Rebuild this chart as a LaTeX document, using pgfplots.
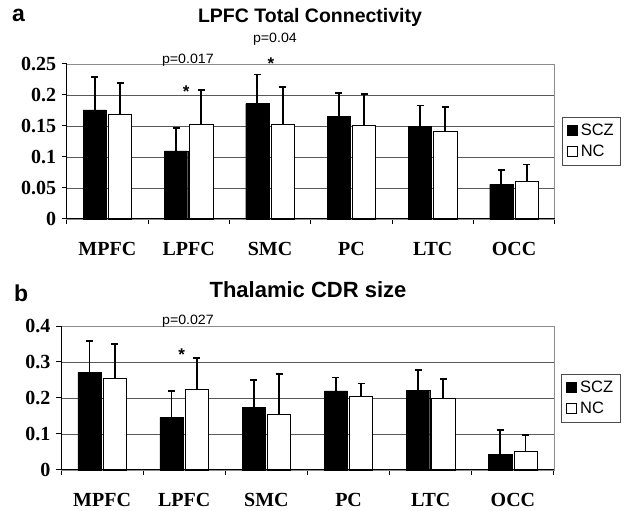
\documentclass[border=0pt]{standalone}
\usepackage{fontspec}
\setmainfont{Liberation Serif}
\newfontfamily\arial{Liberation Sans}
\usepackage{pgfplots}
\usepackage{pgfplotstable}
\pgfplotsset{compat=1.18}

\pgfplotstableread{
x scz scze nc nce
0 0.176 0.0525 0.169 0.050
1 0.110 0.037 0.153 0.055
2 0.186 0.047 0.153 0.0595
3 0.165 0.038 0.151 0.051
4 0.149 0.034 0.1416 0.0385
5 0.056 0.023 0.061 0.027
}\toptable

\pgfplotstableread{
x scz scze nc nce
0 0.271 0.088 0.2535 0.097
1 0.1465 0.072 0.224 0.088
2 0.174 0.075 0.155 0.112
3 0.220 0.037 0.204 0.036
4 0.222 0.056 0.198 0.055
5 0.0435 0.0675 0.051 0.046
}\bottable

\pgfplotsset{
  panel/.style={
    scale only axis,
    ybar, bar width=23.3pt,
    xmin=-0.5, xmax=5.5, ymin=0,
    xtick={0,...,5},
    xticklabels={MPFC,LPFC,SMC,PC,LTC,OCC},
    major x tick style={draw=none},
    minor xtick={-0.5,0.5,...,5.5},
    minor x tick style={black, line width=1pt},
    minor tick length=5pt,
    major tick length=5pt,
    tick align=outside,
    tick pos=left,
    ytick style={black, line width=1pt},
    ymajorgrids,
    major grid style={black!65, line width=0.9pt},
    axis line style={black!45, line width=0.9pt},
    ticklabel style={font=\fontsize{20}{24}\selectfont\bfseries},
    xticklabel style={yshift=-15pt},
    yticklabel style={xshift=-2pt},
    clip=false,
    legend style={draw=black!70, line width=0.8pt, font=\arial\fontsize{16.5}{20}\selectfont,
      anchor=west, xshift=7pt, inner xsep=5pt, inner ysep=5pt, row sep=4pt,
      column sep=1pt,
      legend cell align=left},
    legend image code/.code={\draw[#1, line width=0.7pt] (0pt,-5pt) rectangle (10pt,5pt);},
    error bars/error bar style={line width=1.8pt, black},
    error bars/error mark options={rotate=90, mark size=3.5pt, line width=1.8pt, black},
  },
}

\begin{document}
\begin{tikzpicture}
\path[use as bounding box] (0pt,0pt) rectangle (630pt,511pt);

% Panel a
\begin{axis}[panel,
  at={(66.7pt,292pt)}, anchor=south west,
  width=488pt, height=155pt,
  ymax=0.25,
  ytick={0,0.05,0.1,0.15,0.2,0.25},
  yticklabels={0,0.05,0.1,0.15,0.2,0.25},
  legend style={at={(1,0.503)}},
]
\addplot[fill=black, draw=black, error bars/.cd, y dir=plus, y explicit]
  table[x=x, y=scz, y error=scze] {\toptable};
\addplot[fill=white, draw=black, line width=0.8pt, error bars/.cd, y dir=plus, y explicit]
  table[x=x, y=nc, y error=nce] {\toptable};
\legend{SCZ,NC}
\draw[black, line width=1pt] (rel axis cs:0,1) -- (rel axis cs:0,0) -- (rel axis cs:1,0);
\node[font=\arial\fontsize{13.5}{14}\selectfont, anchor=base, xscale=1.05, transform shape] at (axis cs:0.99,0.2516) {p=0.017};
\node[font=\arial\fontsize{13.5}{14}\selectfont, anchor=base, xscale=1.05, transform shape] at (axis cs:2.06,0.284) {p=0.04};
\node[font=\arial\bfseries\fontsize{17}{18}\selectfont] at (axis cs:0.97,0.205) {*};
\node[font=\arial\bfseries\fontsize{17}{18}\selectfont] at (axis cs:2.01,0.250) {*};
\end{axis}

% Panel b
\begin{axis}[panel,
  at={(61pt,41pt)}, anchor=south west,
  width=493pt, height=144pt,
  ymax=0.4,
  ytick={0,0.1,0.2,0.3,0.4},
  yticklabels={0,0.1,0.2,0.3,0.4},
  legend style={at={(1,0.5)}},
]
\addplot[fill=black, draw=black, error bars/.cd, y dir=plus, y explicit]
  table[x=x, y=scz, y error=scze] {\bottable};
\addplot[fill=white, draw=black, line width=0.8pt, error bars/.cd, y dir=plus, y explicit]
  table[x=x, y=nc, y error=nce] {\bottable};
\legend{SCZ,NC}
\draw[black, line width=1pt] (rel axis cs:0,1) -- (rel axis cs:0,0) -- (rel axis cs:1,0);
\node[font=\arial\fontsize{13.5}{14}\selectfont, anchor=base, xscale=1.05, transform shape] at (axis cs:1.045,0.403) {p=0.027};
\node[font=\arial\bfseries\fontsize{17}{18}\selectfont] at (axis cs:0.97,0.320) {*};
\end{axis}

% titles and panel letters
\node[font=\arial\bfseries\fontsize{19.5}{23}\selectfont, anchor=base] at (310pt,488pt) {LPFC Total Connectivity};
\node[font=\arial\bfseries\fontsize{22}{26}\selectfont, anchor=base] at (308pt,213pt) {Thalamic CDR size};
\node[font=\arial\bfseries\fontsize{23}{27}\selectfont, anchor=base west, inner sep=0pt] at (12pt,489pt) {a};
\node[font=\arial\bfseries\fontsize{23}{27}\selectfont, anchor=base west, inner sep=0pt] at (14pt,209pt) {b};
\end{tikzpicture}
\end{document}
